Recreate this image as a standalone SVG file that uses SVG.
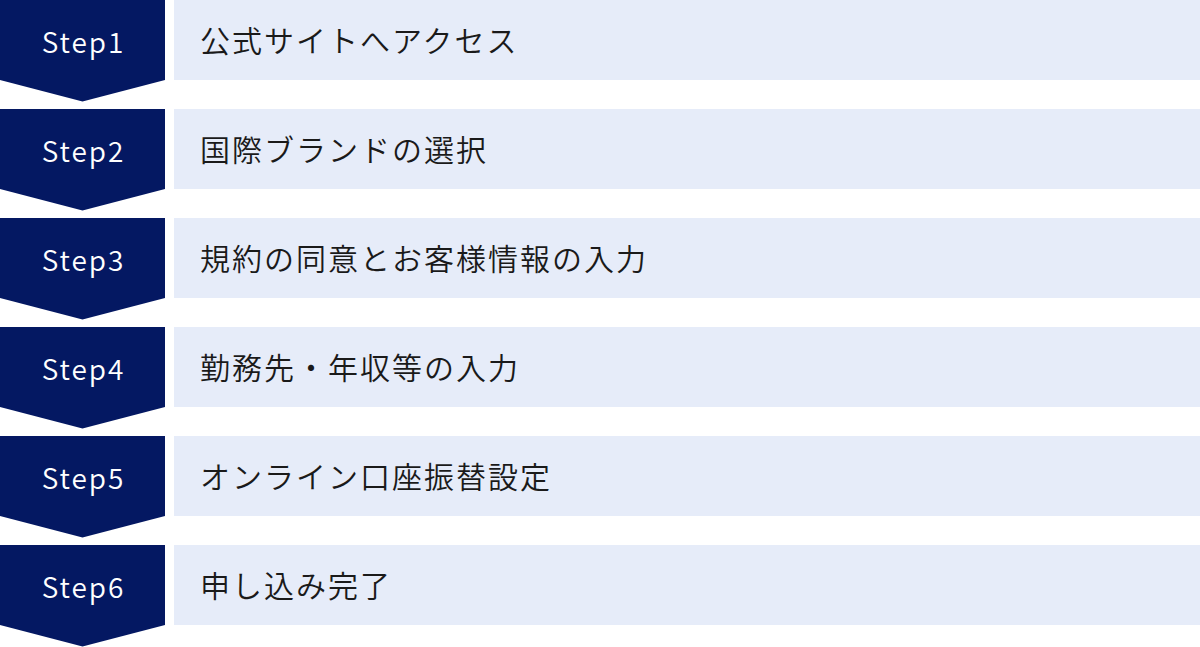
<svg xmlns="http://www.w3.org/2000/svg" width="1200" height="647" viewBox="0 0 1200 647">
  <defs>
    <style>
      .arrow { fill: #041862; }
      .bar { fill: #E6ECF9; }
      .step { fill: #FFFFFF; font-family: "Noto Sans CJK JP", "Noto Sans", sans-serif; font-size: 28px; font-weight: 350; letter-spacing: 2px; text-anchor: middle; }
      .label { fill: #1A1A1A; font-family: "Noto Sans CJK JP", "Noto Sans", sans-serif; font-size: 30px; font-weight: 350; letter-spacing: 2px; }
    </style>
    <path id="chev" d="M0 0 H165 V80 L82.5 101.5 L0 80 Z"/>
  </defs>
  <g id="connectors"></g>
  <g id="step1" transform="translate(0,0)">
    <use href="#chev" class="arrow"/>
    <text class="step" x="83.5" y="53">Step1</text>
    <rect class="bar" x="174" y="0" width="1026" height="80"/>
    <text class="label" x="200" y="51.5">公式サイトへアクセス</text>
  </g>
  <g id="step2" transform="translate(0,109)">
    <use href="#chev" class="arrow"/>
    <text class="step" x="83.5" y="53">Step2</text>
    <rect class="bar" x="174" y="0" width="1026" height="80"/>
    <text class="label" x="200" y="51.5">国際ブランドの選択</text>
  </g>
  <g id="step3" transform="translate(0,218)">
    <use href="#chev" class="arrow"/>
    <text class="step" x="83.5" y="53">Step3</text>
    <rect class="bar" x="174" y="0" width="1026" height="80"/>
    <text class="label" x="200" y="51.5">規約の同意とお客様情報の入力</text>
  </g>
  <g id="step4" transform="translate(0,327)">
    <use href="#chev" class="arrow"/>
    <text class="step" x="83.5" y="53">Step4</text>
    <rect class="bar" x="174" y="0" width="1026" height="80"/>
    <text class="label" x="200" y="51.5">勤務先・年収等の入力</text>
  </g>
  <g id="step5" transform="translate(0,436)">
    <use href="#chev" class="arrow"/>
    <text class="step" x="83.5" y="53">Step5</text>
    <rect class="bar" x="174" y="0" width="1026" height="80"/>
    <text class="label" x="200" y="51.5">オンライン口座振替設定</text>
  </g>
  <g id="step6" transform="translate(0,545)">
    <use href="#chev" class="arrow"/>
    <text class="step" x="83.5" y="53">Step6</text>
    <rect class="bar" x="174" y="0" width="1026" height="80"/>
    <text class="label" x="200" y="51.5">申し込み完了</text>
  </g>
</svg>
